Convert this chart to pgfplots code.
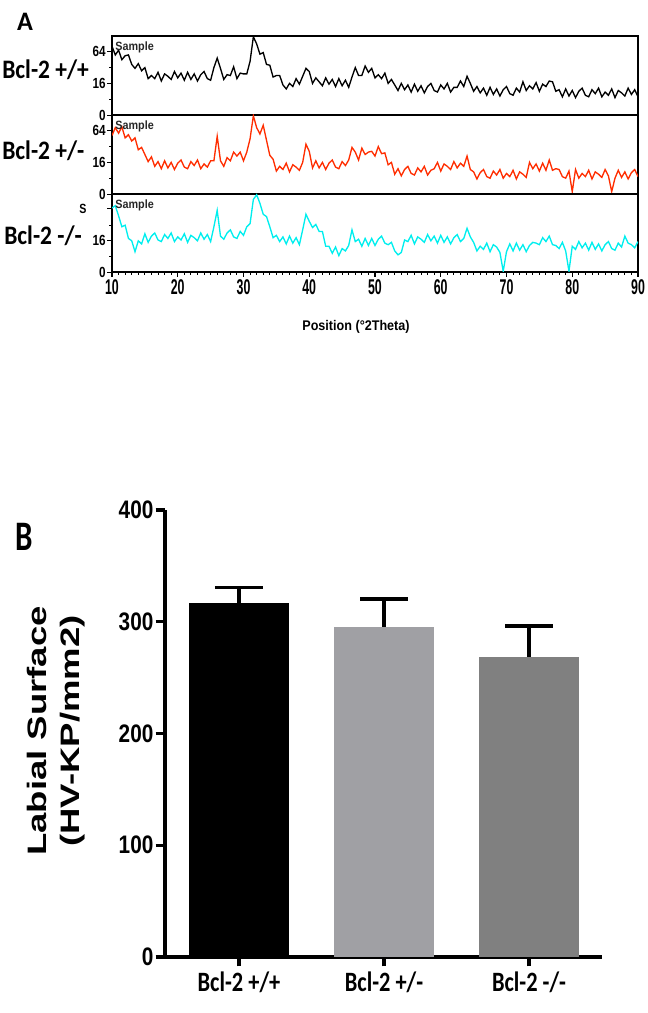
\documentclass[border=0pt]{standalone}
\usepackage{fontspec}
\setmainfont{Liberation Sans}
\usepackage{pgfplots}
\usepackage{pgfplotstable}
\pgfplotsset{compat=1.18}
\newfontfamily\calA[FakeStretch=0.88]{Carlito}
\newfontfamily\calAA[FakeStretch=0.98]{Carlito}
\newfontfamily\calB[FakeStretch=0.8]{Carlito}
\newfontfamily\calBB[FakeStretch=0.74]{Carlito}
\newfontfamily\narX[FakeStretch=0.58]{Liberation Sans}
\newfontfamily\narY[FakeStretch=0.8]{Liberation Sans}
\newfontfamily\narB[FakeStretch=0.82]{Liberation Sans}
\newfontfamily\smp[FakeStretch=0.9]{Liberation Sans}
\newfontfamily\wideY[FakeStretch=1.37]{Liberation Sans}
\definecolor{xrdred}{RGB}{255,45,0}
\definecolor{xrdcyan}{RGB}{0,238,238}
\definecolor{barlight}{RGB}{160,160,164}
\definecolor{bardark}{RGB}{128,128,128}

\pgfplotstableread{
x b r c
10 8.7 7.4 8.2
10.5 7.6 8.4 8.5
11 8.2 7.7 7.2
11.5 7.0 8.5 5.8
12 7.5 7.1 6.0
12.5 7.6 7.5 4.3
13 6.4 6.7 4.0
13.5 5.9 7.1 2.6
14 6.5 5.6 4.0
14.5 5.6 5.9 3.6
15 6.0 5.0 4.9
15.5 4.6 4.1 3.8
16 5.0 4.7 4.6
16.5 4.6 3.5 5.0
17 5.4 4.1 4.1
17.5 4.3 3.2 3.9
18 5.2 4.2 4.8
18.5 4.9 3.3 4.3
19 4.5 4.0 5.0
19.5 5.5 3.1 3.9
20 4.7 3.9 4.5
20.5 5.3 4.3 4.1
21 4.4 3.4 4.9
21.5 5.4 3.2 3.8
22 4.5 4.1 4.7
22.5 5.2 3.6 4.4
23 4.3 4.3 4.0
23.5 5.1 3.2 5.0
24 5.5 3.8 4.2
24.5 4.6 3.4 4.8
25 4.4 4.2 3.9
25.5 6.0 4.2 5.8
26 7.2 7.3 7.9
26.5 5.9 4.2 4.6
27 4.5 3.5 4.2
27.5 5.1 4.6 5.0
28 5.0 4.2 5.4
28.5 6.1 5.3 4.5
29 4.6 4.8 4.3
29.5 5.3 5.3 5.2
30 5.2 4.2 4.7
30.5 5.2 5.3 5.8
31 6.8 7.0 6.2
31.5 9.9 9.9 9.3
32 9.0 8.4 9.9
32.5 7.7 7.6 8.8
33 7.9 8.7 7.4
33.5 6.4 6.8 7.1
34 6.3 4.9 5.8
34.5 4.8 4.4 4.4
35 5.0 2.9 4.7
35.5 5.0 3.5 3.9
36 3.8 3.1 4.5
36.5 3.3 3.9 3.6
37 4.0 2.8 4.6
37.5 3.6 3.7 3.7
38 4.6 3.4 4.4
38.5 3.9 3.0 3.5
39 4.9 4.0 5.4
39.5 5.9 6.3 7.4
40 5.5 5.4 6.5
40.5 4.0 3.3 5.7
41 4.7 4.2 6.1
41.5 4.2 3.3 5.2
42 3.7 4.0 5.2
42.5 4.7 3.1 3.3
43 3.9 3.9 3.3
43.5 4.5 4.3 2.4
44 3.6 3.4 3.2
44.5 4.6 3.2 2.1
45 3.7 4.1 3.0
45.5 4.4 3.6 2.7
46 3.5 4.3 3.4
46.5 4.8 5.9 5.4
47 6.0 5.3 3.9
47.5 5.0 4.3 4.2
48 5.0 5.8 3.3
48.5 6.2 5.0 4.3
49 5.4 5.3 3.4
49.5 5.9 5.4 4.3
50 4.7 4.8 3.4
50.5 5.1 6.0 4.2
51 4.6 5.1 4.6
51.5 5.3 5.2 3.7
52 4.0 3.7 3.5
52.5 4.5 4.0 3.8
53 3.8 2.5 2.7
53.5 3.1 3.2 2.2
54 4.0 2.3 2.5
54.5 3.2 3.1 4.1
55 3.8 3.5 3.9
55.5 2.9 2.6 4.7
56 3.9 2.4 3.6
56.5 3.0 3.3 4.5
57 3.7 2.8 4.2
57.5 2.8 3.5 3.8
58 3.6 2.4 4.8
58.5 4.0 3.0 4.0
59 3.1 3.2 4.6
59.5 2.9 4.0 3.7
60 3.8 2.9 4.7
60.5 3.3 3.8 3.8
61 4.0 3.5 4.5
61.5 2.9 3.1 3.6
62 3.5 4.1 4.4
62.5 3.5 3.3 4.8
63 4.3 3.9 3.9
63.5 3.6 3.5 4.3
64 4.9 4.8 5.6
64.5 4.0 3.1 4.5
65 3.0 2.8 3.8
65.5 3.6 1.9 2.7
66 2.8 2.7 3.3
66.5 3.4 3.1 2.9
67 2.5 2.2 3.7
67.5 3.5 2.0 2.6
68 2.6 2.9 3.5
68.5 3.3 2.4 3.2
69 2.4 3.1 2.5
69.5 3.2 2.0 0.1
70 3.6 2.6 2.6
70.5 2.7 2.2 3.6
71 2.5 3.0 2.7
71.5 3.4 1.9 3.7
72 2.9 2.8 2.8
72.5 4.2 2.5 3.5
73 3.1 2.1 2.6
73.5 3.7 4.0 3.4
74 3.3 3.2 3.8
74.5 4.1 3.8 3.7
75 3.0 2.9 3.5
75.5 3.9 3.9 4.4
76 3.6 3.0 3.9
76.5 4.3 4.3 4.6
77 4.2 3.0 3.5
77.5 3.0 3.2 3.4
78 3.2 3.1 3.0
78.5 2.3 2.2 3.8
79 3.3 2.0 2.7
79.5 2.4 2.9 0.1
80 3.1 0.3 3.3
80.5 2.2 3.1 2.9
81 3.0 2.0 3.9
81.5 3.4 2.6 3.1
82 2.5 2.2 3.7
82.5 2.3 3.0 2.8
83 3.2 1.9 3.8
83.5 2.7 2.8 2.9
84 3.4 2.5 3.6
84.5 2.3 2.1 2.7
85 2.9 3.1 3.5
85.5 2.5 2.3 3.9
86 3.3 0.3 3.0
86.5 2.2 2.0 2.8
87 3.1 3.0 3.7
87.5 2.8 2.1 3.2
88 2.4 2.8 4.6
88.5 3.4 1.9 3.7
89 2.6 2.7 3.5
89.5 3.2 3.1 3.1
90 2.3 2.2 3.9
}\xrd

\pgfplotstableread{
x y e
0 316.5 14.3
}\barA
\pgfplotstableread{
x y e
1 295.6 24.8
}\barB
\pgfplotstableread{
x y e
2 268.7 27.5
}\barC

\pgfplotsset{
  xrdpanel/.style={
    scale only axis, width=394.5pt,
    xmin=10, xmax=90, ymin=0, ymax=10,
    axis line style={line width=1.3pt},
    ytick={0,4,8.1}, yticklabels={0,16,64},
    minor ytick={2,6},
    ytick pos=left, xtick pos=bottom,
    tick align=outside,
    major tick length=3.5pt, minor tick length=2pt,
    tick style={black, line width=0.7pt},
    yticklabel style={font=\narY\bfseries\fontsize{11}{11}\selectfont, inner sep=1pt},
  }
}
\tikzset{sample/.style={anchor=west, inner sep=0pt, text=black!85, font=\smp\bfseries\fontsize{9}{9}\selectfont}}

\begin{document}
\begin{tikzpicture}
\useasboundingbox (0,0) rectangle (486pt,759.75pt);

% Panel A, row 1
\begin{axis}[xrdpanel, at={(84pt,673.5pt)}, anchor=south west, height=59.25pt, xtick=\empty]
\addplot[black, line width=1pt] table[x=x,y=b]{\xrd};
\node[sample] at (axis description cs:0.006,0.85) {Sample};
\end{axis}

% Panel A, row 2
\begin{axis}[xrdpanel, at={(84pt,614.25pt)}, anchor=south west, height=59.25pt, xtick=\empty]
\addplot[xrdred, line width=1pt] table[x=x,y=r]{\xrd};
\node[sample] at (axis description cs:0.006,0.85) {Sample};
\end{axis}

% Panel A, row 3
\begin{axis}[xrdpanel, at={(84pt,555.75pt)}, anchor=south west, height=58.5pt,
  yticklabels={0,16,{}},
  xtick={10,20,...,90}, minor x tick num=9,
  xticklabels={10,20,30,40,50,60,70,80,90},
  major x tick style={line width=0.9pt},
  xticklabel style={font=\narX\bfseries\fontsize{16}{16}\selectfont, inner sep=2pt}]
\addplot[xrdcyan, line width=1pt] table[x=x,y=c]{\xrd};
\node[sample] at (axis description cs:0.006,0.85) {Sample};
\end{axis}

\node[font=\smp\bfseries\fontsize{10.5}{10.5}\selectfont] at (267pt,514.5pt) {Position (°2Theta)};
\node[font=\narY\bfseries\fontsize{10}{10}\selectfont] at (62.25pt,603pt) {S};

\node[anchor=west, inner sep=0pt, font=\calA\bfseries\fontsize{20}{20}\selectfont] at (1.5pt,707.25pt) {Bcl-2 +/+};
\node[anchor=west, inner sep=0pt, font=\calA\bfseries\fontsize{20}{20}\selectfont] at (1.5pt,646.5pt) {Bcl-2 +/-};
\node[anchor=west, inner sep=0pt, font=\calA\bfseries\fontsize{20}{20}\selectfont] at (3pt,582.75pt) {Bcl-2 -/-};

\node[font=\calAA\bfseries\fontsize{20}{20}\selectfont] at (18.75pt,743.25pt) {A};
\node[font=\calBB\bfseries\fontsize{31.5}{31.5}\selectfont] at (18.4pt,357.4pt) {B};

% Panel B
\begin{axis}[at={(123.75pt,42pt)}, anchor=south west, scale only axis,
  width=327.75pt, height=335.25pt,
  xmin=-0.51, xmax=2.503, ymin=0, ymax=400,
  axis x line*=bottom, axis y line*=left,
  axis line style={line width=2.6pt, -},
  ybar, bar width=0.69, bar shift=0pt,
  xtick={0,1,2}, xticklabels={Bcl-2 +/+, Bcl-2 +/-, Bcl-2 -/-},
  ytick={0,100,200,300,400}, yticklabels={0,100,200,300,400},
  tick align=outside, major tick length=7pt,
  tick style={line width=2.4pt, black},
  xticklabel style={font=\calB\bfseries\fontsize{21}{21}\selectfont, inner sep=4pt},
  yticklabel style={font=\narB\bfseries\fontsize{19}{19}\selectfont, inner sep=1.5pt},
  error bars/y dir=plus, error bars/y explicit,
  error bars/error bar style={line width=2.4pt, black},
  error bars/error mark options={rotate=90, line width=2.6pt, mark size=18pt, black},
]
\addplot[fill=black, draw=none] table[x=x, y=y, y error=e]{\barA};
\addplot[fill=barlight, draw=none] table[x=x, y=y, y error=e]{\barB};
\addplot[fill=bardark, draw=none] table[x=x, y=y, y error=e]{\barC};
\end{axis}

\node[rotate=90, align=center, font=\wideY\bfseries\fontsize{20}{24.75}\selectfont] at (42.4pt,211.5pt) {Labial Surface\\(HV-KP/mm2)};

\end{tikzpicture}
\end{document}
